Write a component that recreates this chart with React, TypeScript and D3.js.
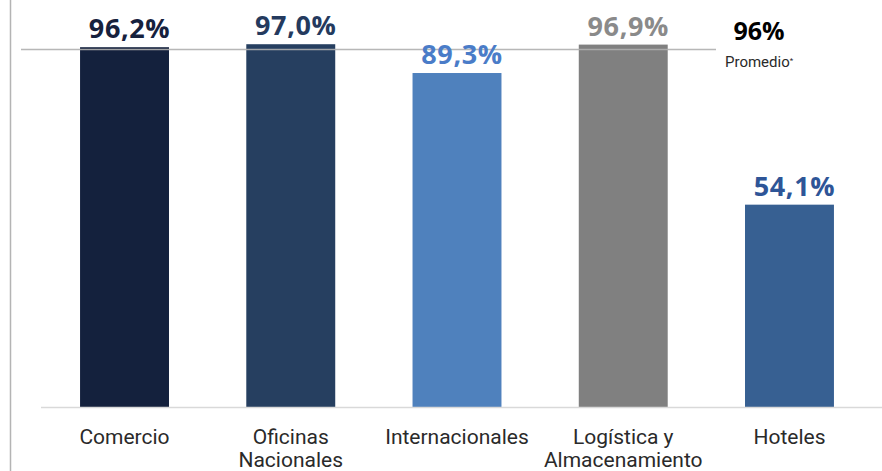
import { useEffect, useRef } from "react";
import * as d3 from "d3";

const CATEGORIES = ["Comercio", "Oficinas Nacionales", "Internacionales", "Logística y Almacenamiento", "Hoteles"];
const CATEGORY_LINES = [["Comercio"], ["Oficinas", "Nacionales"], ["Internacionales"], ["Logística y", "Almacenamiento"], ["Hoteles"]];
const VALUES = [96.2, 97.0, 89.3, 96.9, 54.1];
const VALUE_LABELS = ["96,2%", "97,0%", "89,3%", "96,9%", "54,1%"];
const AVERAGE = 96;
const AVERAGE_LABEL = "96%";

const BAR_COLORS = ["#14213d", "#263f60", "#4f81bd", "#808080", "#376092"];
const LABEL_COLORS = ["#16213d", "#243a5e", "#4a7cc8", "#8a8a8a", "#2e5597"];

const WIDTH = 882;
const HEIGHT = 471;
const BOLD = "'Open Sans', 'Noto Sans', sans-serif";
const NARROW = "'Liberation Sans Narrow', 'Roboto', sans-serif";

export default function App() {
  const svgRef = useRef<SVGSVGElement>(null);

  useEffect(() => {
    document.body.style.margin = "0";
    const svg = svgRef.current;
    if (!svg) return;
    const root = d3.select(svg);
    root.selectAll("*").remove();

    const x = d3.scaleBand<string>().domain(CATEGORIES).range([41.4, 872.6]).paddingInner(0.465).paddingOuter(0.2325);
    const y = d3.scaleLinear().domain([0, 100]).range([407, 33]);

    // left frame line
    root.append("line")
      .attr("x1", 10.5).attr("x2", 10.5).attr("y1", 0).attr("y2", HEIGHT)
      .attr("stroke", "#b4b4b4").attr("stroke-width", 1.5);

    // bars
    root.selectAll("rect.bar")
      .data(VALUES)
      .join("rect")
      .attr("class", "bar")
      .attr("x", (_, i) => x(CATEGORIES[i])!)
      .attr("width", x.bandwidth())
      .attr("y", (d) => y(d))
      .attr("height", (d) => y(0) - y(d))
      .attr("fill", (_, i) => BAR_COLORS[i]);

    // baseline
    root.append("line")
      .attr("x1", 41).attr("x2", WIDTH).attr("y1", y(0) + 0.5).attr("y2", y(0) + 0.5)
      .attr("stroke", "#d9d9d9").attr("stroke-width", 1.5);

    // average line
    root.append("line")
      .attr("x1", 21).attr("x2", 716).attr("y1", y(AVERAGE) + 1.5).attr("y2", y(AVERAGE) + 1.5)
      .attr("stroke", "#b0b0b0").attr("stroke-width", 1.5).attr("opacity", 0.9);

    // value labels
    root.selectAll("text.value")
      .data(VALUES)
      .join("text")
      .attr("class", "value")
      .attr("x", (_, i) => x(CATEGORIES[i])! + x.bandwidth() / 2 + 5)
      .attr("y", (d) => y(d) - 9)
      .attr("text-anchor", "middle")
      .attr("fill", (_, i) => LABEL_COLORS[i])
      .attr("font-family", BOLD)
      .attr("font-weight", 700)
      .attr("font-size", 27)
      .attr("letter-spacing", 0.6)
      .text((_, i) => VALUE_LABELS[i]);

    // category labels
    CATEGORY_LINES.forEach((lines, i) => {
      const t = root.append("text")
        .attr("x", x(CATEGORIES[i])! + x.bandwidth() / 2)
        .attr("y", 444)
        .attr("text-anchor", "middle")
        .attr("fill", "#2a2a2a")
        .attr("font-family", NARROW)
        .attr("font-size", 21);
      lines.forEach((line, li) => {
        t.append("tspan")
          .attr("x", x(CATEGORIES[i])! + x.bandwidth() / 2)
          .attr("dy", li === 0 ? 0 : 23)
          .text(line);
      });
    });

    // average annotation
    root.append("text")
      .attr("x", 759).attr("y", 40)
      .attr("text-anchor", "middle")
      .attr("fill", "#000")
      .attr("font-family", BOLD)
      .attr("font-weight", 700)
      .attr("font-size", 25)
      .text(AVERAGE_LABEL);

    const p = root.append("text")
      .attr("x", 725).attr("y", 67)
      .attr("fill", "#2a2a2a")
      .attr("font-family", NARROW)
      .attr("font-size", 15)
      .text("Promedio");
    p.append("tspan").attr("dy", -4).attr("font-size", 8).text("*");
  }, []);

  return <svg ref={svgRef} width={WIDTH} height={HEIGHT} style={{ display: "block", background: "#fff" }} />;
}
